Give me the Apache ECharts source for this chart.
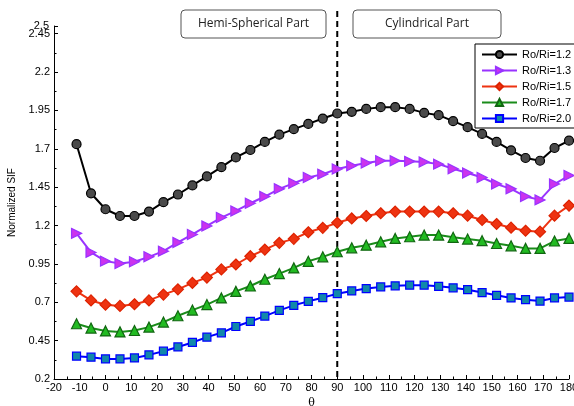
<!DOCTYPE html>
<html>
<head>
<meta charset="utf-8">
<script src="https://cdn.jsdelivr.net/npm/echarts@6/dist/echarts.min.js"></script>
<style>
html,body{margin:0;padding:0;background:#fff;}
#main{width:574px;height:406px;}
</style>
</head>
<body>
<div id="main"></div>
<script>
var theta = [-11.25, -5.625, 0, 5.625, 11.25, 16.875, 22.5, 28.125, 33.75, 39.375, 45, 50.625, 56.25, 61.875, 67.5, 73.125, 78.75, 84.375, 90, 95.625, 101.25, 106.875, 112.5, 118.125, 123.75, 129.375, 135, 140.625, 146.25, 151.875, 157.5, 163.125, 168.75, 174.375, 180];
var seriesNames = ['Ro/Ri=1.2', 'Ro/Ri=1.3', 'Ro/Ri=1.5', 'Ro/Ri=1.7', 'Ro/Ri=2.0'];
var sif12 = [1.73, 1.41, 1.306, 1.262, 1.262, 1.291, 1.352, 1.402, 1.461, 1.52, 1.58, 1.644, 1.692, 1.745, 1.792, 1.828, 1.862, 1.897, 1.93, 1.941, 1.96, 1.971, 1.971, 1.96, 1.934, 1.919, 1.88, 1.841, 1.797, 1.745, 1.69, 1.64, 1.622, 1.705, 1.753];
var sif13 = [1.149, 1.025, 0.968, 0.953, 0.964, 0.996, 1.033, 1.09, 1.142, 1.197, 1.252, 1.295, 1.345, 1.389, 1.439, 1.476, 1.513, 1.535, 1.568, 1.589, 1.607, 1.622, 1.622, 1.618, 1.614, 1.6, 1.57, 1.542, 1.513, 1.47, 1.439, 1.389, 1.367, 1.47, 1.526];
var sif15 = [0.771, 0.712, 0.684, 0.676, 0.687, 0.712, 0.75, 0.784, 0.826, 0.861, 0.914, 0.946, 1.0, 1.043, 1.087, 1.113, 1.156, 1.185, 1.218, 1.246, 1.262, 1.28, 1.291, 1.291, 1.291, 1.291, 1.28, 1.264, 1.236, 1.21, 1.186, 1.166, 1.16, 1.264, 1.33];
var sif17 = [0.56, 0.532, 0.513, 0.507, 0.516, 0.538, 0.571, 0.612, 0.649, 0.685, 0.728, 0.771, 0.806, 0.85, 0.887, 0.924, 0.967, 0.996, 1.029, 1.055, 1.072, 1.094, 1.116, 1.127, 1.138, 1.138, 1.123, 1.112, 1.101, 1.083, 1.068, 1.051, 1.051, 1.099, 1.116];
var sif20 = [0.349, 0.342, 0.331, 0.331, 0.337, 0.357, 0.381, 0.409, 0.438, 0.473, 0.501, 0.542, 0.575, 0.61, 0.647, 0.68, 0.706, 0.73, 0.756, 0.774, 0.789, 0.8, 0.807, 0.811, 0.811, 0.804, 0.794, 0.782, 0.763, 0.745, 0.728, 0.717, 0.708, 0.728, 0.734];
var yTickLabels = [0.2, 0.45, 0.7, 0.95, 1.2, 1.45, 1.7, 1.95, 2.2, 2.45];
var yTopLabel = [2.5];
var yMinorTicks = [0.325, 0.575, 0.825, 1.075, 1.325, 1.575, 1.825, 2.075, 2.325];
var partLabels = ['Hemi-Spherical Part', 'Cylindrical Part'];
var dividerTheta = 90;

function pairs(ys){ return theta.map(function(t,i){ return [t, ys[i]]; }); }

var styles = [
  {line:'#000000', fill:'#4a4a4a', border:'#000000', symbol:'circle', size:9, rot:0},
  {line:'#9933ff', fill:'#cc33ee', border:'#9933ff', symbol:'triangle', size:10, rot:-90},
  {line:'#ee3311', fill:'#ee3311', border:'#dd2200', symbol:'diamond', size:11, rot:0},
  {line:'#1a8c1a', fill:'#22bb22', border:'#116611', symbol:'triangle', size:10, rot:0},
  {line:'#0000ff', fill:'#1188aa', border:'#0000ff', symbol:'rect', size:8, rot:0}
];
var allData = [sif12, sif13, sif15, sif17, sif20];

var series = allData.map(function(d, i){
  var s = styles[i];
  return {
    name: seriesNames[i], type:'line', data: pairs(d),
    symbol: s.symbol, symbolSize: s.size, symbolRotate: s.rot,
    showAllSymbol: true, animation:false,
    lineStyle:{color:s.line, width:2},
    itemStyle:{color:s.fill, borderColor:s.border, borderWidth:1.2},
    emphasis:{disabled:true}
  };
});

var FONT = 'Liberation Sans';
function fmt(v){ return String(Math.round(v*100)/100); }
var chart = echarts.init(document.getElementById('main'), null, {renderer:'canvas'});
chart.setOption({
  backgroundColor:'#fff',
  animation:false,
  grid:{left:54, right:5, top:26, bottom:27, containLabel:false, outerBoundsMode:'none'},
  legend:{
    orient:'vertical', left:475, top:44,
    itemWidth:35, itemHeight:9, itemGap:5,
    padding:[5,4,4,6],
    borderColor:'#000', borderWidth:1, backgroundColor:'#fff',
    textStyle:{fontFamily:FONT, fontSize:11, color:'#000'},
    data: seriesNames
  },
  xAxis:[{
    type:'value', min:-20, max:180, interval:10,
    name:'θ', nameLocation:'middle', nameGap:19,
    nameTextStyle:{fontFamily:'DejaVu Serif', fontSize:11, color:'#000'},
    axisLine:{onZero:false, lineStyle:{color:'#000', width:1}},
    axisTick:{inside:true, length:4, lineStyle:{color:'#000'}},
    minorTick:{show:true, splitNumber:2, length:2.5, lineStyle:{color:'#000'}},
    axisLabel:{fontFamily:FONT, fontSize:11, color:'#000', margin:3, showMinLabel:true, showMaxLabel:true, hideOverlap:false},
    splitLine:{show:false}
  }],
  yAxis:[{
    type:'value', min:0.2, max:2.5,
    name:'Normalized SIF', nameLocation:'middle', nameGap:37, nameRotate:90,
    nameTextStyle:{fontFamily:FONT, fontSize:10, color:'#000'},
    axisLine:{show:true, onZero:false, lineStyle:{color:'#000', width:1}},
    axisTick:{show:true, inside:true, length:4, customValues:yTickLabels.concat(yTopLabel), lineStyle:{color:'#000'}},
    axisLabel:{fontFamily:FONT, fontSize:11, color:'#000', margin:4, customValues:yTickLabels,
      showMinLabel:true, showMaxLabel:true, hideOverlap:false, formatter:fmt},
    splitLine:{show:false}
  },{
    type:'value', min:0.2, max:2.5, position:'left',
    axisLine:{show:false, onZero:false},
    axisTick:{show:true, inside:true, length:2.5, customValues:yMinorTicks, lineStyle:{color:'#000'}},
    axisLabel:{show:true, fontFamily:FONT, fontSize:11, color:'#000', margin:5, customValues:yTopLabel,
      showMinLabel:true, showMaxLabel:true, hideOverlap:false, formatter:fmt},
    splitLine:{show:false}
  }],
  series: series
});

// Divider and part annotations placed from the chart's own scales
var xDiv = chart.convertToPixel({xAxisIndex:0}, dividerTheta);
var yBottom = chart.convertToPixel({yAxisIndex:0}, 0.2);
chart.setOption({
  graphic:[
    {type:'line', silent:true, z:1, shape:{x1:xDiv, y1:11, x2:xDiv, y2:yBottom},
      style:{stroke:'#000', lineWidth:2, lineDash:[6,4]}},
    {type:'rect', silent:true, shape:{x:181, y:10, width:145, height:28, r:4},
      style:{fill:'#fff', stroke:'#555', lineWidth:1}},
    {type:'text', silent:true, x:253.5, y:24,
      style:{text:partLabels[0], fontFamily:'Open Sans', fontSize:12, fill:'#222', align:'center', verticalAlign:'middle'}},
    {type:'rect', silent:true, shape:{x:353, y:10, width:148, height:28, r:4},
      style:{fill:'#fff', stroke:'#555', lineWidth:1}},
    {type:'text', silent:true, x:427, y:24,
      style:{text:partLabels[1], fontFamily:'Open Sans', fontSize:12, fill:'#222', align:'center', verticalAlign:'middle'}}
  ]
});
</script>
</body>
</html>
